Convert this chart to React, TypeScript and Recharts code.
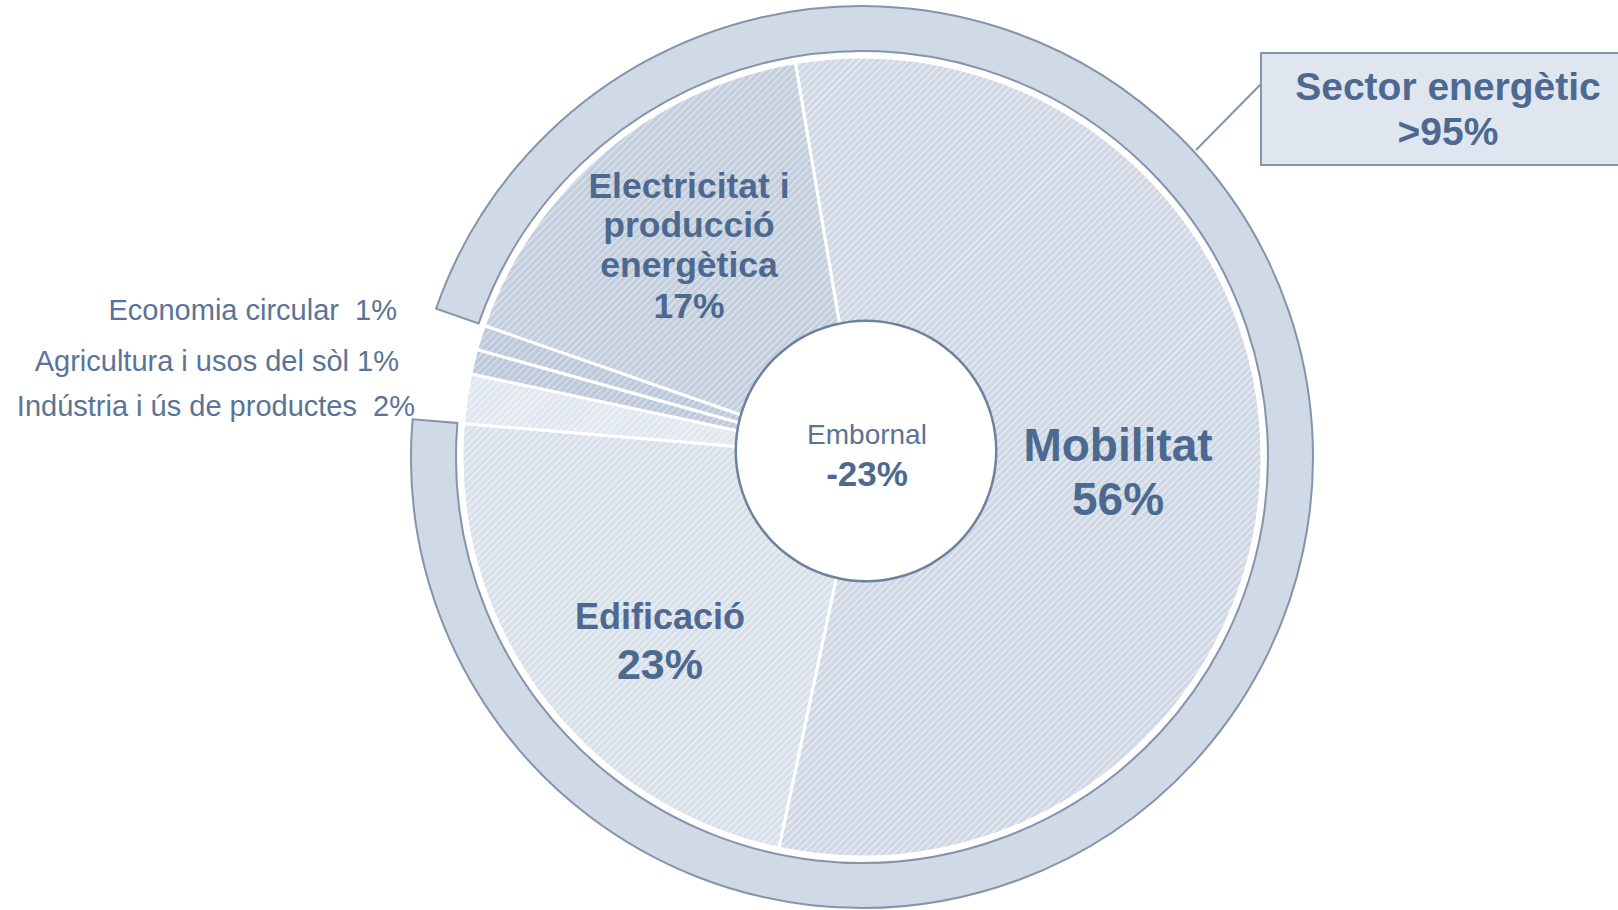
import React from 'react';
import { PieChart, Pie, Cell } from 'recharts';

// shares of emissions, clockwise from the top boundary
const sectors = ['Mobilitat', 'Edificació', 'Indústria i ús de productes', 'Agricultura i usos del sòl', 'Economia circular', 'Electricitat i producció energètica'];
const shares = [56, 23, 2, 1, 1, 17];
const isEnergy = [true, true, false, false, false, true];
const sinkLabel = 'Embornal';
const sinkShare = '-23%';
const energyTitle = 'Sector energètic';
const energyShare = '>95%';

const FONT = '"Liberation Sans", Arial, sans-serif';
const TEXT = '#4d6990';
const START = 99.6;

const patterns = [
  { id: 'p-mob', bg: '#cfd8e4', line: '#eef2f7' },
  { id: 'p-edi', bg: '#d8e0ea', line: '#f1f4f8' },
  { id: 'p-ind', bg: '#e1e7ef', line: '#f4f6f9' },
  { id: 'p-agr', bg: '#bdc9da', line: '#dde4ee' },
  { id: 'p-eco', bg: '#bdc9da', line: '#dde4ee' },
  { id: 'p-ele', bg: '#c4cfde', line: '#e4e9f1' },
];

const pieData = sectors.map((name, i) => ({ name, value: shares[i] }));
const energyTotal = shares.reduce((s, v, i) => (isEnergy[i] ? s + v : s), 0);
// ring starts where Electricitat begins (counter-clockwise end) and runs clockwise
const ringStart = START + shares[5] * 3.6;
const ringData = [{ name: energyTitle, value: energyTotal }];
const sinkData = [{ name: sinkLabel, value: 1 }];

export default function App() {
  return (
    <div style={{ position: 'absolute', left: 0, top: 0, width: 1618, height: 910, background: '#fff' }}>
      <PieChart width={1618} height={910} margin={{ top: 0, right: 0, bottom: 0, left: 0 }}>
        <defs>
          {patterns.map((p) => (
            <pattern key={p.id} id={p.id} width="5" height="5" patternUnits="userSpaceOnUse" patternTransform="rotate(45)">
              <rect width="5" height="5" fill={p.bg} />
              <line x1="0" y1="0" x2="0" y2="5" stroke={p.line} strokeWidth="2.2" />
            </pattern>
          ))}
        </defs>
        <Pie
          data={ringData}
          dataKey="value"
          cx={862}
          cy={457}
          innerRadius={406}
          outerRadius={451}
          startAngle={ringStart}
          endAngle={ringStart - energyTotal * 3.6}
          fill="#d0dae6"
          stroke="#8494ab"
          strokeWidth={2}
          isAnimationActive={false}
        />
        <Pie
          data={pieData}
          dataKey="value"
          cx={862}
          cy={457}
          innerRadius={0}
          outerRadius={400}
          startAngle={START}
          endAngle={START - 360}
          stroke="#ffffff"
          strokeWidth={3}
          isAnimationActive={false}
        >
          {pieData.map((d, i) => (
            <Cell key={d.name} fill={`url(#${patterns[i].id})`} />
          ))}
        </Pie>
        <Pie
          data={sinkData}
          dataKey="value"
          cx={866}
          cy={451}
          innerRadius={0}
          outerRadius={130}
          fill="#ffffff"
          stroke="none"
          isAnimationActive={false}
        />
        <Pie
          data={sinkData}
          dataKey="value"
          cx={866}
          cy={451}
          innerRadius={129}
          outerRadius={131.5}
          fill="#6f819c"
          stroke="none"
          isAnimationActive={false}
        />
      </PieChart>
      <svg width={1618} height={910} style={{ position: 'absolute', left: 0, top: 0, pointerEvents: 'none' }}>
        <line x1={1261} y1={84} x2={1196} y2={150} stroke="#8494ab" strokeWidth={2} />
        <rect x={1261} y={53} width={370} height={112} fill="#dfe6ef" stroke="#8494ab" strokeWidth={2} />
        <g fontFamily={FONT} fontWeight="bold" fill={TEXT} textAnchor="middle">
          <text x={1448} y={100} fontSize={39}>{energyTitle}</text>
          <text x={1448} y={145} fontSize={39}>{energyShare}</text>

          <text x={1118} y={461} fontSize={46}>{sectors[0]}</text>
          <text x={1118} y={515} fontSize={46}>{shares[0]}%</text>

          <text x={660} y={629} fontSize={36}>{sectors[1]}</text>
          <text x={660} y={679} fontSize={43}>{shares[1]}%</text>

          <text x={689} y={198} fontSize={35.5}>Electricitat i</text>
          <text x={689} y={237} fontSize={35.5}>producció</text>
          <text x={689} y={277} fontSize={35.5}>energètica</text>
          <text x={689} y={318} fontSize={35.5}>{shares[5]}%</text>

          <text x={867} y={486} fontSize={35}>{sinkShare}</text>
        </g>
        <text x={867} y={444} fontFamily={FONT} fontSize={28} fill="#5a7396" textAnchor="middle">{sinkLabel}</text>
        <g fontFamily={FONT} fontSize={29} fill="#5a7396" textAnchor="end">
          <text x={397} y={320} style={{ whiteSpace: 'pre' }}>{`${sectors[4]}  ${shares[4]}%`}</text>
          <text x={399} y={371}>{`${sectors[3]} ${shares[3]}%`}</text>
          <text x={415} y={416} style={{ whiteSpace: 'pre' }}>{`${sectors[2]}  ${shares[2]}%`}</text>
        </g>
      </svg>
    </div>
  );
}
